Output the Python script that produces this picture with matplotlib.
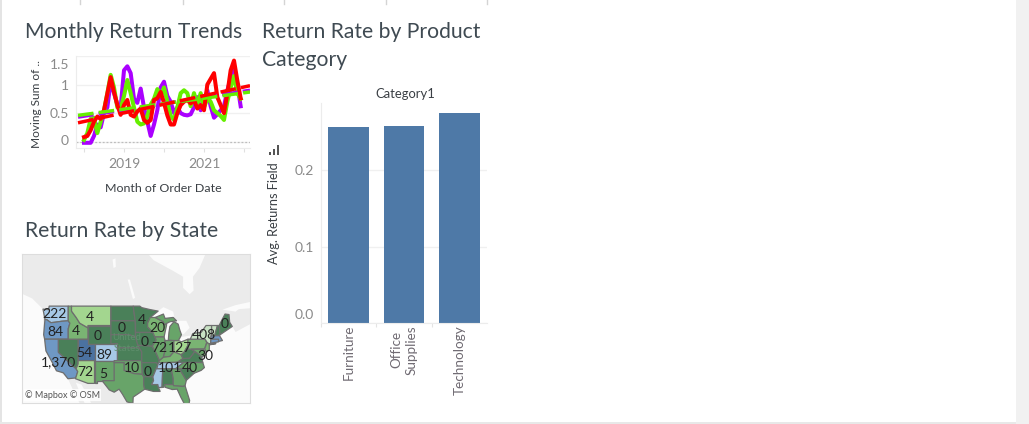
import numpy as np
import matplotlib
matplotlib.use("Agg")
import matplotlib.pyplot as plt
from matplotlib.patches import Polygon, Rectangle
from matplotlib.lines import Line2D
from matplotlib.transforms import ScaledTranslation

W, H = 1029, 424
plt.rcParams['font.family'] = ['Lato', 'DejaVu Sans']

# ---- data: monthly trends ----
start_year = 2018
purple = [-.02,-.02,-.02,.10,.30,.25,.50,.60,1.05,.85,.65,.60,1.25,1.32,1.20,.75,.68,.93,.60,.35,.10,.30,.55,.95,
          1.05,.80,.70,.50,.60,.50,.47,.46,.48,.60,.78,.55,.68,.90,.62,.42,.48,.55,.62,.90,1.10,1.25,1.00,.62]
green = [.03,.15,.40,.42,.15,.35,.55,.85,1.17,.95,.60,.58,.80,1.08,.85,.60,.35,.30,.32,.45,.65,.75,.92,.80,
         .95,.70,.45,.38,.60,.85,.90,.85,.62,.85,.65,.85,.60,.75,.70,.55,.50,.45,.38,.70,.95,1.15,.85,.75]
red = [.08,.10,.20,.35,.44,.40,.55,.84,1.13,.87,.64,.47,.64,.73,.47,.44,.53,.58,.38,.33,.38,.73,.76,.87,
       .68,.46,.30,.30,.50,.64,.70,.73,.67,.73,.58,.64,.55,1.00,1.10,1.20,.78,.64,.50,.84,1.25,1.42,1.07,.76]
trend_x = [2017.85, 2022.15]
trend_purple = [.43, .90]
trend_green = [.46, .87]
trend_red = [.33, .98]
line_yticks = [0, .5, 1, 1.5]
line_ylabels = ['0', '0.5', '1', '1.5']
line_xticks = [2018, 2019, 2020, 2021, 2022]
line_xlabels = ['', '2019', '', '2021', '']

# ---- data: category bars ----
categories = ['Furniture', 'Office\nSupplies', 'Technology']
returns = [.256, .2575, .2745]

# ---- data: map ----
C_D, C_M, C_L = '#4a8059', '#68a469', '#a3d68f'
C_LB, C_B, C_DB, C_P = '#a6c8e6', '#6f98c4', '#4b72a0', '#c8e2c4'
C_G = '#7ab473'
states = {
 'WA': (C_LB, [(-124.7,48.4),(-123,48.3),(-122.8,49),(-117,49),(-117,46),(-119,45.9),(-121,45.7),(-122.3,45.6),(-123.5,46.2),(-124.1,46.3)]),
 'OR': (C_B, [(-124.1,46.3),(-123.5,46.2),(-122.3,45.6),(-121,45.7),(-119,45.9),(-117,46),(-116.5,45.5),(-117,44.3),(-117,42),(-124.2,42),(-124.5,43)]),
 'CA': (C_B, [(-124.2,42),(-120,42),(-120,39),(-114.6,35),(-114.1,34.3),(-114.7,32.7),(-117.1,32.5),(-118.5,34),(-120.6,34.5),(-121.9,36.6),(-123.8,39.3)]),
 'NV': (C_D, [(-120,42),(-114,42),(-114,36.2),(-114.6,35),(-120,39)]),
 'ID': (C_G, [(-117,49),(-116,49),(-116,48),(-114.5,46.6),(-113.5,45.5),(-111,44.5),(-111,42),(-117,42),(-117,44.3),(-116.5,45.5),(-117,46)]),
 'MT': (C_L, [(-116,49),(-104,49),(-104,45),(-111,45),(-111,44.5),(-113.5,45.5),(-114.5,46.6),(-116,48)]),
 'WY': (C_D, [(-111,45),(-104,45),(-104,41),(-111,41)]),
 'UT': (C_DB, [(-114,42),(-111,42),(-111,41),(-109,41),(-109,37),(-114,37)]),
 'CO': (C_LB, [(-109,41),(-102,41),(-102,37),(-109,37)]),
 'AZ': (C_L, [(-114,37),(-109,37),(-109,31.3),(-111,31.3),(-114.8,32.5),(-114.1,34.3),(-114.6,35),(-114,36.2)]),
 'NM': (C_M, [(-109,37),(-103,37),(-103,32),(-106.5,32),(-106.5,31.8),(-108.2,31.8),(-108.2,31.3),(-109,31.3)]),
 'ND': (C_D, [(-104,49),(-97.2,49),(-96.6,46),(-104,46)]),
 'SD': (C_D, [(-104,46),(-96.6,46),(-96.5,42.5),(-98.5,43),(-104,43)]),
 'NE': (C_D, [(-104,43),(-98.5,43),(-96.5,42.5),(-95.3,40),(-102,40),(-102,41),(-104,41)]),
 'KS': (C_D, [(-102,40),(-95.3,40),(-94.6,39.1),(-94.6,37),(-102,37)]),
 'OK': (C_M, [(-103,37),(-94.6,37),(-94.4,33.6),(-97,33.8),(-100,34.6),(-100,36.5),(-103,36.5)]),
 'TX': (C_M, [(-103,36.5),(-100,36.5),(-100,34.6),(-97,33.8),(-94.4,33.6),(-94,33),(-94,31),(-93.7,29.8),(-95,29),(-97.2,27.7),(-97.3,26),(-99.1,26.4),(-100.5,28.5),(-101.5,29.8),(-103,29),(-104.5,29.6),(-106.5,31.8),(-106.5,32),(-103,32)]),
 'MN': (C_D, [(-97.2,49),(-95.2,49),(-94.6,48.7),(-92,48.3),(-89.6,48),(-92,46.7),(-92.8,45.5),(-92.8,44.7),(-91.2,43.5),(-96.5,43.5),(-96.5,45.3),(-96.6,46)]),
 'IA': (C_D, [(-96.5,43.5),(-91.2,43.5),(-90.2,41.8),(-91.4,40.4),(-95.8,40.6),(-96.5,42.5)]),
 'MO': (C_D, [(-95.8,40.6),(-91.4,40.4),(-90.2,38.8),(-89.2,37),(-89.7,36),(-90.4,36),(-94.6,36.5),(-94.6,39.1)]),
 'AR': (C_D, [(-94.6,36.5),(-90.2,36.5),(-89.7,36),(-91.2,33),(-94,33),(-94.4,33.6)]),
 'LA': (C_D, [(-94,33),(-91.2,33),(-91,32),(-91.6,31),(-89.7,31),(-89.5,30.2),(-89,29.2),(-91,29.2),(-93.7,29.8),(-94,31)]),
 'WI': (C_G, [(-92,46.7),(-90.5,46.7),(-88,45.8),(-87.7,45.2),(-87,45.2),(-87.8,42.5),(-90.6,42.5),(-91.2,43.5),(-92.8,44.7),(-92.8,45.5)]),
 'IL': (C_M, [(-90.6,42.5),(-87.8,42.5),(-87.5,41.7),(-87.5,39.3),(-88,37.8),(-89.2,37),(-90.2,38.8),(-91.4,40.4),(-90.2,41.8)]),
 'IN': (C_M, [(-87.5,41.7),(-84.8,41.7),(-84.8,39.1),(-86,38),(-88,37.8),(-87.5,39.3)]),
 'OH': (C_L, [(-84.8,41.7),(-83.4,41.7),(-82.5,41.4),(-80.5,42),(-80.5,40.6),(-81.7,39),(-82.6,38.4),(-84.8,39.1)]),
 'MI': (C_M, [(-86.5,41.8),(-84.8,41.7),(-83.4,41.7),(-82.5,43),(-83,44),(-83.5,45.3),(-84.8,45.8),(-86,44.8),(-86.3,43.5)]),
 'MIU': (C_M, [(-90.5,46.7),(-88,47.4),(-87.5,46.5),(-85,46.7),(-84,46),(-86,45.8),(-87.7,45.2),(-88,45.8)]),
 'KY': (C_G, [(-89.5,36.5),(-83.7,36.6),(-82,37.5),(-82.6,38.4),(-84.8,39.1),(-86,38),(-88,37.8),(-89.2,37)]),
 'TN': (C_LB, [(-90,35),(-84.3,35),(-81.7,36.6),(-89.5,36.5)]),
 'MS': (C_LB, [(-91.2,33),(-90.2,35),(-88.2,35),(-88.4,30.3),(-89.5,30.2),(-89.7,31),(-91.6,31),(-91,32)]),
 'AL': (C_D, [(-88.2,35),(-85.6,35),(-85,32.5),(-85,31),(-87.6,31),(-87.9,30.3),(-88.4,30.3)]),
 'GA': (C_M, [(-85.6,35),(-83.1,35),(-81,32.1),(-81.4,30.7),(-82,30.5),(-84.9,30.7),(-85,31),(-85,32.5)]),
 'FL': (C_M, [(-87.6,31),(-85,31),(-84.9,30.7),(-82,30.5),(-81.4,30.7),(-80,26.8),(-80.3,25.2),(-81.2,25.2),(-82.7,27.7),(-83.8,29.8),(-85.3,29.7),(-87.5,30.3)]),
 'SC': (C_D, [(-83.1,35),(-81,35.1),(-79.7,34.8),(-78.6,33.9),(-81,32.1)]),
 'NC': (C_M, [(-84.3,35),(-83.1,35),(-81,35.1),(-79.7,34.8),(-78.6,33.9),(-76.5,34.6),(-75.5,35.3),(-76,36.55),(-81.7,36.6)]),
 'VA': (C_D, [(-83.7,36.6),(-76,36.55),(-76.3,37.9),(-77.2,38.5),(-78.4,39.2),(-80,37.6),(-82,37.5)]),
 'WV': (C_D, [(-82.6,38.4),(-82,37.5),(-80,37.6),(-78.4,39.2),(-79.5,39.7),(-80.5,39.7),(-80.5,40.6),(-81.7,39)]),
 'PA': (C_G, [(-80.5,42),(-79.8,42),(-75.3,42),(-74.8,41.3),(-75.4,39.8),(-80.5,39.7)]),
 'MD': (C_M, [(-79.5,39.7),(-75.7,39.7),(-75.1,38.4),(-76.3,37.9),(-77.2,38.5),(-78.4,39.2)]),
 'NJ': (C_G, [(-74.7,41.3),(-74,40.9),(-74,39.6),(-74.9,39),(-75.4,39.8)]),
 'NY': (C_P, [(-79.8,42),(-79,43.3),(-76.5,43.5),(-75,45),(-73.3,45),(-73.5,42),(-73.6,41.1),(-74,40.7),(-72,41),(-74,40.9),(-74.7,41.3),(-75.3,42)]),
 'VT': (C_P, [(-73.3,45),(-71.5,45),(-72.4,42.7),(-73.3,42.7)]),
 'NH': (C_D, [(-71.5,45),(-71,45),(-70.7,43),(-72.4,42.7)]),
 'ME': (C_D, [(-71,45),(-70.3,46),(-69.2,47.4),(-68,47.3),(-67.8,45.7),(-67,44.8),(-70.7,43)]),
 'MA': (C_B, [(-73.5,42.7),(-70.9,42.8),(-70,41.7),(-71.2,41.5),(-73.5,42)]),
 'CT': (C_B, [(-73.5,42),(-71.2,42),(-71.2,41.4),(-73.6,41.1)]),
}
water = [
 [(-93,58.5),(-91,57.3),(-85,55.5),(-82,54.5),(-82,52.5),(-80,51.3),(-78.8,52),(-79,54.5),(-77,56),(-75,58.5)],
 [(-98.9,54),(-98.2,54),(-96.6,50.6),(-97.3,50.4)],
 [(-103.5,57.4),(-102.6,57.6),(-102.5,56.2),(-103.2,56)],
 [(-92,46.7),(-89.6,48),(-88,48.8),(-85,47.9),(-84.6,46.5),(-87.5,46.5),(-88,47.4),(-90.5,46.7)],
 [(-87.8,42),(-86.5,41.8),(-86.3,43.5),(-86,44.8),(-84.8,45.8),(-86,45.8),(-87.7,45.2),(-87,45.2)],
 [(-84,46),(-81,46),(-80,44.5),(-81.7,43.2),(-82.5,43),(-83,44),(-83.5,45.3)],
 [(-83.4,41.7),(-82.5,42.5),(-79,42.9),(-79.8,42.3),(-82.5,41.4)],
 [(-79.7,43.4),(-76.3,44.2),(-76.5,43.5),(-79,43.3)],
 [(-135,52.5),(-128,50.5),(-124.7,48.4),(-124.5,43),(-124.2,40),(-122,37),(-120,34.5),(-117.1,32.5),(-115.5,29.5),(-113.5,26),(-135,26)],
 [(-114.7,31.5),(-113,31),(-111,28),(-110,26),(-112,26),(-113.5,29)],
 [(-97.4,26),(-97.2,27.7),(-95,29),(-93.7,29.8),(-91,29.2),(-89,29.2),(-88,30.3),(-85,29.7),(-83.8,29.8),(-82.7,27.7),(-82,26)],
 [(-80,26),(-81.4,30.7),(-81,32.1),(-78.6,33.9),(-75.5,35.3),(-76,37),(-75,38.4),(-74,39.6),(-74,40.7),(-72,41),(-70,41.7),(-70.9,42.8),(-70,43.8),(-67,44.8),(-66,43.6),(-61,45.5),(-61,26)],
 [(-70,48.3),(-66,49.2),(-61,49.9),(-61,48.6),(-65,48.4),(-66,47.9)],
]
state_labels = ['222','84','4','4','0','0','4','20','0','1,370','54','89','72','5','10','0','72','127','408','30','101','40','0']
label_lon = [-121.3,-121,-114.6,-110.4,-107.9,-100.6,-94.5,-89.9,-93.6,-120.1,-112.2,-106.1,-111.9,-106.4,-97.6,-92.7,-89.3,-82.9,-75.6,-75.3,-86,-79.9,-69.2]
label_lat = [47.4,43.6,43.8,46.7,42.7,44.4,46.1,44.4,41.3,36.7,38.9,38.4,34.1,33.8,35.3,34.1,39.9,39.9,42.9,38.2,35.3,35.3,45.3]


def box(x0, y0, x1, y1):
    return [x0 / W, 1 - y1 / H, (x1 - x0) / W, (y1 - y0) / H]


fig = plt.figure(figsize=(W / 100, H / 100), dpi=100, facecolor='white')


def ftext(x, y, s, **kw):
    kw.setdefault('va', 'center')
    return fig.text(x / W, 1 - y / H, s, **kw)


# page furniture
fig.add_artist(Rectangle((1016 / W, 0), 13 / W, 1, transform=fig.transFigure, color='#f1f1f1', lw=0))
fig.add_artist(Rectangle((0, 0), 2 / W, 1, transform=fig.transFigure, color='#e4e4e4', lw=0))
fig.add_artist(Rectangle((0, 0), 1016 / W, 2 / H, transform=fig.transFigure, color='#e8e8e8', lw=0))
for px in [80, 183, 284, 386, 487]:
    fig.add_artist(Line2D([px / W, px / W], [1, 1 - 4 / H], transform=fig.transFigure, color='#d4d4d4', lw=1))

TITLE = '#3f4a52'
title_fs = 15.2
ftext(25, 32, 'Monthly Return Trends', fontsize=title_fs, color=TITLE)
ftext(262, 32, 'Return Rate by Product', fontsize=title_fs, color=TITLE)
ftext(262, 60, 'Category', fontsize=title_fs, color=TITLE)
ftext(25, 231, 'Return Rate by State', fontsize=title_fs, color=TITLE)

GRID = '#f0f0f0'
TICK = '#8a8a8a'
DARK = '#3a3f44'


def shift(label, dx, dy):
    label.set_transform(label.get_transform() + ScaledTranslation(dx / 100, dy / 100, fig.dpi_scale_trans))


# ---- line chart ----
ax = fig.add_axes(box(76, 56, 250, 148))
months = start_year + np.arange(len(red)) / 12
ax.set_xlim(2017.8, 2022.15)
ax.set_ylim(-.111, 1.5)
ax.set_yticks(line_yticks, line_ylabels)
ax.set_xticks(line_xticks, line_xlabels)
ax.yaxis.grid(True, color=GRID, lw=1)
ax.set_axisbelow(True)
for s in ['top', 'right']:
    ax.spines[s].set_visible(False)
for s in ['left', 'bottom']:
    ax.spines[s].set_color('#ececec')
ax.tick_params(axis='y', length=0, labelsize=10, labelcolor=TICK, pad=5)
ax.tick_params(axis='x', length=3, color='#e0e0e0', labelsize=10, labelcolor=TICK, pad=4)
for lab, t in zip(ax.get_yticklabels(), line_yticks):
    if t == 1.5:
        shift(lab, 0, -8)
    elif t == 0:
        shift(lab, 0, 2)
ax.axhline(0, color='#bdbdbd', lw=.9, ls=(0, (1.5, 1.5)))
for series, c in [(purple, '#aa00ff'), (green, '#66ee00'), (red, '#ff0000')]:
    ax.plot(months, series, color=c, lw=2.9, solid_joinstyle='round', clip_on=False)
for trend, c in [(trend_purple, '#aa00ff'), (trend_green, '#66ee00'), (trend_red, '#ff0000')]:
    ax.plot(trend_x, trend, color=c, lw=2.5, ls=(0, (4.5, 1.5)))
ftext(37, 104, 'Moving Sum of ..', rotation=90, ha='center', fontsize=8.6, color=DARK)
ftext(163, 188, 'Month of Order Date', ha='center', fontsize=8.9, color=DARK)

# ---- bar chart ----
bx = fig.add_axes(box(321, 103, 487, 323))
xpos = np.arange(len(categories))
bx.bar(xpos, returns, width=.74, color='#4e79a7')
bx.set_xlim(-.5, 2.5)
bx.set_ylim(0, .2876)
bx.set_yticks([0, .1, .2], ['0.0', '0.1', '0.2'])
bx.set_xticks([-.5, .5, 1.5])
bx.set_xticklabels([])
bx.yaxis.grid(True, color=GRID, lw=1)
bx.set_axisbelow(True)
for s in ['top', 'right']:
    bx.spines[s].set_visible(False)
for s in ['left', 'bottom']:
    bx.spines[s].set_color('#ececec')
bx.tick_params(axis='y', length=0, labelsize=10, labelcolor=TICK, pad=5)
bx.tick_params(axis='x', length=3, color='#e4e4e4')
for lab, t in zip(bx.get_yticklabels(), [0, .1, .2]):
    if t == 0:
        shift(lab, 0, 9)
for x, c in zip(xpos, categories):
    bx.annotate(c, xy=(x, 0), xycoords=bx.get_xaxis_transform(), xytext=(0, -2), textcoords='offset pixels',
                rotation=90, ha='center', va='top', fontsize=9.7, color='#6f6a72', linespacing=1.25,
                multialignment='center')
ftext(405, 94, 'Category1', ha='center', fontsize=9.4, color=DARK)
ftext(274, 213, 'Avg. Returns Field', rotation=90, ha='center', fontsize=9.2, color=DARK)
for x0, top in [(268.5, 152), (272.5, 149), (276.5, 145)]:
    fig.add_artist(Rectangle((x0 / W, 1 - 155 / H), 2.4 / W, (155 - top) / H, transform=fig.transFigure, color='#555555', lw=0))

# ---- map ----
mx = fig.add_axes(box(22, 254, 250, 403))
mx.set_facecolor('#ebebeb')
mx.set_yscale('function', functions=(
    lambda lat: np.degrees(np.log(np.tan(np.radians(45 + np.asarray(lat) / 2)))),
    lambda m: 2 * np.degrees(np.arctan(np.exp(np.radians(m)))) - 90))
mx.set_xlim(-131.1, -61.6)
mx.set_ylim(26.1, 58.3)
mx.set_xticks([])
mx.set_yticks([])
mx.minorticks_off()
for s in mx.spines.values():
    s.set_color('#dddddd')
for poly in water:
    mx.add_patch(Polygon(poly, closed=True, fc='#fbfbfb', ec='none'))
for name, (col, poly) in states.items():
    mx.add_patch(Polygon(poly, closed=True, fc=col, ec='#6e6e6e', lw=.9, joinstyle='round'))
mx.text(-99.2, 41.2, 'United\nStates', ha='center', va='center', fontsize=7, color='#5f8f6c', linespacing=1.3)
for s, lo, la in zip(state_labels, label_lon, label_lat):
    mx.text(lo, la, s, ha='center', va='center', fontsize=10, color='#222222')
ftext(25, 395, '© Mapbox © OSM', fontsize=6.5, color='#555555',
      bbox=dict(fc='white', ec='none', pad=1, alpha=.85))

fig.savefig('out.png', dpi=100)
